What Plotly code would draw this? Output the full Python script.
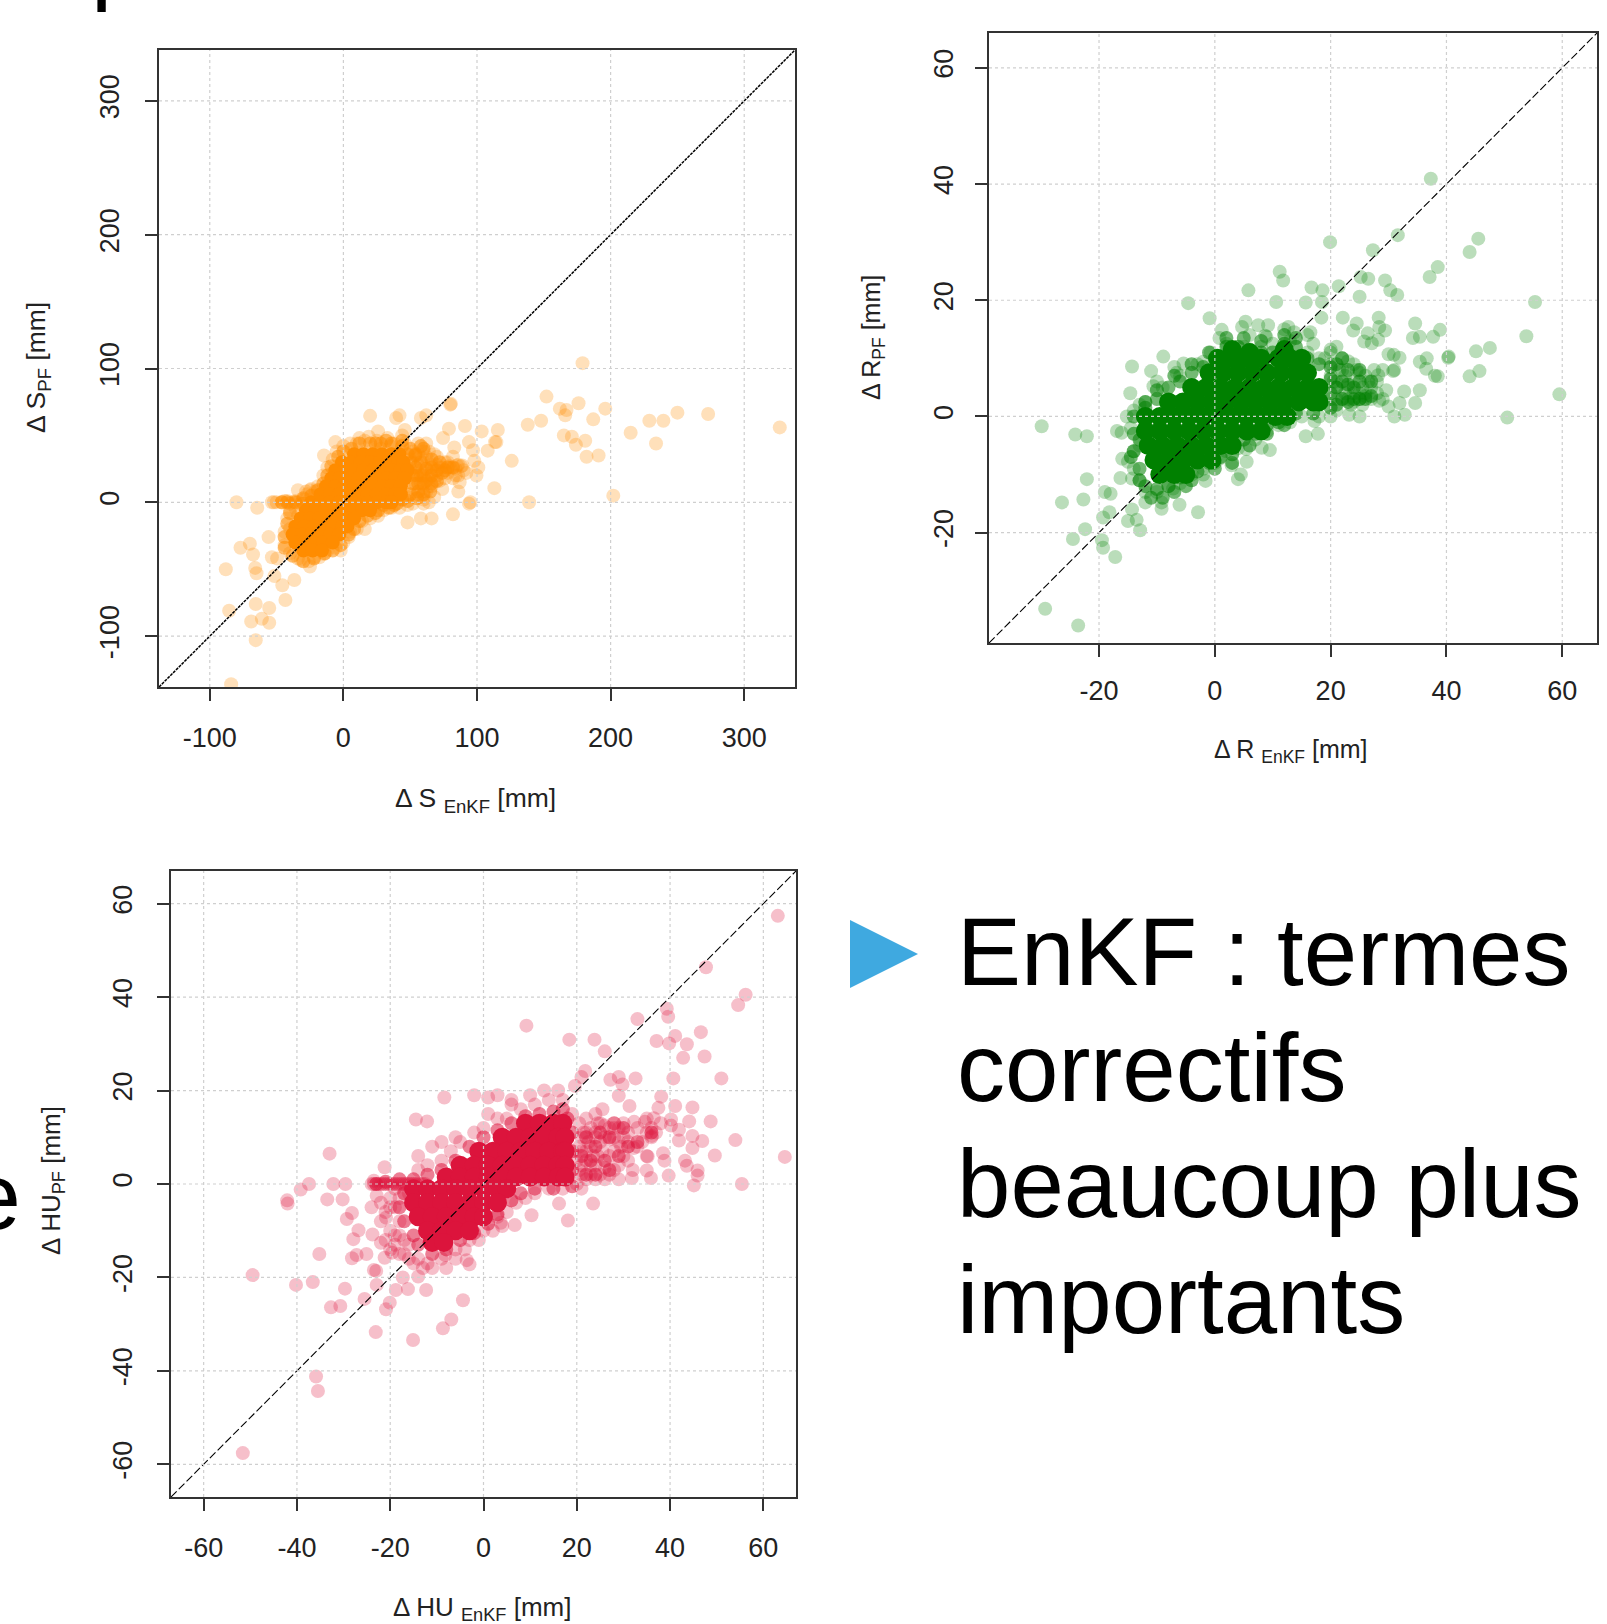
import plotly.graph_objects as go

W, H = 1607, 1624
FONT = "Liberation Sans"

# ---------- data (x = EnKF, y = PF) ----------
S_ticks = [-100, 0, 100, 200, 300]
R_ticks = [-20, 0, 20, 40, 60]
HU_ticks = [-60, -40, -20, 0, 20, 40, 60]

S_range = [-138, 338]
R_range = [-39, 66]
HU_range = [-67, 67]

S_core = [
 (8,36),(15,36),(22,36),(29,36),(36,36),(42,36),
 (-1,30),(6,30),(13,30),(20,30),(27,30),(34,30),(41,30),(45,30),
 (-6,24),(1,24),(8,24),(15,24),(22,24),(29,24),(36,24),(43,24),(48,24),
 (-9,18),(-3,18),(4,18),(11,18),(18,18),(25,18),(32,18),(39,18),(46,18),
 (-13,12),(-6,12),(1,12),(8,12),(15,12),(22,12),(29,12),(36,12),(43,12),
 (-17,6),(-10,6),(-3,6),(4,6),(11,6),(18,6),(25,6),(32,6),(39,6),(43,6),
 (-24,0),(-17,0),(-10,0),(-3,0),(4,0),(11,0),(18,0),(25,0),(32,0),(36,0),
 (-28,-6),(-21,-6),(-14,-6),(-7,-6),(0,-6),(7,-6),(14,-6),(20,-6),
 (-32,-12),(-25,-12),(-18,-12),(-11,-12),(-4,-12),(3,-12),(8,-12),
 (-36,-18),(-29,-18),(-22,-18),(-15,-18),(-8,-18),(-1,-18),(3,-18),
 (-38,-24),(-31,-24),(-24,-24),(-17,-24),(-10,-24),(-3,-24),
 (-36,-30),(-29,-30),(-22,-30),(-15,-30),(-8,-30),
 (-30,-36),(-23,-36),(-16,-36),
]
S_edge = [
 (50,40),(54,35),(58,30),(62,25),(66,20),(70,24),(55,20),(60,14),(65,8),(52,14),(56,8),(50,6),(44,42),(36,44),
 (28,44),(20,44),(12,44),(6,40),(0,38),(-4,34),(-9,27),(-12,20),(-15,14),(-19,9),(-24,5),(-30,3),(-36,0),(-42,0),
 (-46,0),(-30,-1),(-40,-8),(-42,-16),(-44,-26),(-44,-34),(-38,-40),(-30,-44),(-22,-42),(-14,-38),(-8,-36),(-2,-32),
 (4,-24),(8,-20),(12,-14),(18,-10),(24,-8),(30,-2),(40,-1),(48,1),(72,30),(76,24),(82,26),(60,40),(66,32),(58,42),
 (50,30),(54,26),(58,20),(62,16),(66,14),(70,16),(74,22),(78,26),(56,14),(60,20),(54,36),(48,36),(52,20),(66,26),
 (60,6),(55,3),(44,2),(38,-2),(34,-4),(26,-6),(44,46),(32,46),(24,44),
]
S_scatter = [
 (326.6,56),(273,66),(250,67),(239.5,61),(229,61),(234,44),(215,52),(202,5),(196,70),(191,35),
 (182,34),(181,46),(187,62),(179,104),(176,74),(174,43),(171,49),(165,50),(166,65),(167,69),
 (162,70),(152,79),(148,61),(138,58),(139,0),(126,31),(115.6,54),(114.5,45),(113.5,45),(113,10.6),
 (108,38.6),(103.5,53),(101,26),(95,0),(94,-1),(91,57),(94,45),(97,39),(98,31),(99.6,20),
 (86,8),(82,-9),(66,-12),(58,-12),(48,-15),(64,0),(60,-1),(80.5,73.6),(80,73),(79,55),
 (74.6,48),(83,41),(89,27.5),(85,27.5),(79,27),(62,65),(58,63),(46,54),(42,65),(39.5,63),
 (20,64.6),(26,53),(19,49),(-6,45),(-14.5,35),
 (-80,0),(-64.5,-4),(-53.5,0),(-56,-26),(-70,-31),(-77,-34),(-67.6,-39),(-88,-50),(-66,-49),(-65,-53),
 (-53.5,-41),(-49.6,-42),(-51.6,-55),(-45.7,-62),(-36.7,-58),(-43.4,-73),(-65.6,-76),(-55.5,-79),(-85.5,-81),
 (-69,-89),(-61,-87),(-55.5,-90),(-65.6,-103),(-84,-136),(-25,-48),(-32,-43),(-14.5,-38.6),(-22,-41),
 (52,38),(56,44),(60,30),(54,22),(58,14),(62,8),(66,22),(70,28),(72,16),(76,30),(80,26),(84,25),(88,27),
 (86,20),(78,22),(74,10),(68,4),(60,2),(56,6),(52,10),(64,38),(58,34),(62,44),(66,12),(70,34),(82,34),
 (90,24),(64,18),(56,28),(50,32),(48,4),(52,-1),(60,18),(68,24),(74,26),(82,18),(60,38),(62,28),(87,15),
 (48,20),(50,24),(52,30),(54,14),(56,36),(58,24),(60,8),(62,34),(64,12),(66,28),(68,16),(70,20),(72,26),(76,18),
 (78,30),(84,20),(86,28),(92,22),(68,36),(58,4),
 (0,42),(5,44),(10,44),(16,46),(25,46),(33,48),(38,44),(44,50),(-8,32),(-12,26),(-15,20),(-19,12),(-21,8),
 (-5,38),(12,48),(28,40),(46,44),(35,42),(-27,6),(-24,10),(-30,2),
 (-52,0),(-50,0),(-46,0),(-42,1),(-38,0),(-34,0),(-34,9),(-28,8),(-25,9),(-44,1),(-40,-1),(-36,1),(-32,-1),
 (-40,-20),(-42,-12),(-44,-22),(-40,-6),(-36,-4),(-34,-10),(-44,-32),(-40,-38),(-34,-42),(-26,-44),(-18,-41),
 (-12,-36),(-6,-34),(0,-30),(4,-26),(10,-20),(14,-14),(20,-12),(26,-10),(30,-6),(36,-4),(42,-4),(48,-2),
 (5,-22),(-2,-36),(16,-20),
]

R_core = [
 (3,11.5),(6,11),(12,11.5),
 (0.5,10),(3,10),(5.5,10),(8,10),(11,10),(13,10),(15,10),
 (-1,7.5),(1.5,7.5),(4,7.5),(6.5,7.5),(9,7.5),(11.5,7.5),(14,7.5),(16,7.5),
 (-4,5),(-1.5,5),(1,5),(3.5,5),(6,5),(8.5,5),(11,5),(13.5,5),(16,5),(18,5),
 (-8,2.5),(-5.5,2.5),(-3,2.5),(-0.5,2.5),(2,2.5),(4.5,2.5),(7,2.5),(9.5,2.5),(12,2.5),(14.5,2.5),(17,2.5),(18,2.5),
 (-12,0),(-9.5,0),(-7,0),(-4.5,0),(-2,0),(0.5,0),(3,0),(5.5,0),(8,0),(10.5,0),(12.5,0),
 (-12,-2.5),(-9.5,-2.5),(-7,-2.5),(-4.5,-2.5),(-2,-2.5),(0.5,-2.5),(3,-2.5),(5.5,-2.5),(8,-2.5),
 (-11.5,-5),(-9,-5),(-6.5,-5),(-4,-5),(-1.5,-5),(1,-5),(3,-5),
 (-10.5,-7.5),(-8,-7.5),(-5.5,-7.5),(-3,-7.5),(-0.5,-7.5),
 (-9.5,-10),(-7,-10),(-5,-10),
]
R_edge = [
 (-14,0),(-14,-3),(-14,-6),(-13,-9),(-12,-12),(-10,-12.5),(-8,-12),(-6,-10.5),(-3,-9.5),(-1,-8),(1,-7),(3,-6.5),
 (5,-4),(7,-3),(9,-1.5),(11,-1),(14,0.5),(17,0.5),(20,1.5),(20,4),(20,6.5),(20,8.5),(18,9),(16,10),(14,12),(12,12.5),
 (10,11),(8,11),(6,11.5),(4,12),(2,12),(0,10),(-2,8.5),(-4,7.5),(-6,6),(-8,5),(-10,3),(-12,1.5),(22,6),(22,3),(24,5),
 (24,3),(26,3),(25,6),(23,8),
 (-13,-11),(-11,-14),(-9,-14),(-7,-13),(-5,-12),(-13,-4),(-14.5,-7),(-4,-11),(0,-9),(3,-8),(6,-5),(9,-3),(12,-1.5),
 (21,9),(21,2),(21,5),(23,2.5),(23,5.5),(25,3),(27,3.5),(27,6),(25,8),(22,10),(14,13.5),(12,14),(8,13),(5,13.5),
 (2,13.5),(-1,11),(-4,9),(-7,7),(-10,4.5),(-12,2.5),
]
R_scatter = [
 (59.5,3.8),(55.3,19.7),(53.8,13.8),(50.5,-0.2),(47.5,11.8),(45.7,7.8),(45.1,11.2),(45.5,30.6),(44,28.3),(44,6.9),
 (40.4,10.3),(40.3,10.1),(37.3,40.9),(38.5,25.7),(37.1,24),(38.9,14.9),(37.7,13.7),(38.5,6.9),(38,7),(36.6,10),
 (35.4,9.4),(36.5,8.2),(34.6,16),(34.2,13.5),(35.4,13.7),(35.4,4.5),(34.6,2.3),(31.6,31.2),(31.5,20.9),(30.3,21.7),
 (29.4,23.4),(27.3,28.6),(26.5,23.7),(25.2,24),(25,20.6),(21.4,22.4),(19.9,30),(18.6,21.7),(16.7,22.2),(15.7,19.6),
 (18.5,19.7),(18.4,17),(16.5,14.5),(11.2,24.9),(11.8,23.4),(10.6,19.7),(5.8,21.7),(-4.6,19.5),(-0.9,16.9),(1.2,14.9),
 (0.8,13.5),(5.3,16.3),(4.7,15.4),(7.5,15.7),(9.2,15.7),(8.7,13.9),(8.9,13.7),(12.7,15.4),(13.7,14.5),(22.1,17),
 (24.5,16),(23.9,14.8),(26.4,14.3),(28.3,17),(28.4,15.4),(29.4,14.8),(28.2,13.2),(25.8,12.9),(27.1,12.6),(30,10.7),
 (30.9,10.6),(31.9,10.1),(31,8),(30.8,7.8),(28.2,7.1),(29.6,4.5),(32.7,4.3),(31.9,2.3),(30,1.7),(31,0),
 (32.8,0.3),(28.4,2.7),(25,0),(23.2,0.3),(17.8,-3),(15.7,-3.4),(17.2,-0.8),(9.5,-5.8),(8.1,-5.4),(5.4,-5.6),
 (5.5,-7.8),(4.5,-10),(4,-10.8),(2.9,-8.4),(0.8,-7.3),(-2.9,-16.5),(-1.6,-11.1),(-2,-10),(-6.1,-15.2),(-7.2,-12.4),
 (-9.2,-15.9),(-9.2,-14.8),(-12,-14.8),(-12.9,-19.6),(-13.5,-17.8),(-15,-18),(-14.3,-16),(-18.2,-16.5),(-19.3,-17.4),
 (-18,-13.3),(-19,-13),(-22.1,-10.8),(-22.7,-14.3),(-26.4,-14.8),(-22.4,-19.4),(-24.5,-21.1),(-19.5,-21.3),(-19.3,-22.6),
 (-17.2,-24.2),(-29.3,-33.1),(-23.6,-36),(-29.9,-1.7),(-24.1,-3.1),(-22.1,-3.4),(-16.1,-2.8),(-16.9,-2.5),(-16,-7.3),
 (-15,-7.8),(-16.3,-10.6),(-14.3,-10.7),(-14.6,4),(-14.3,8.6),(-11,7.8),(-8.9,10.3),(-10.6,5.2),(-6.6,7.5),(-5.4,9.1),
 (-0.7,11),(-2,9.4),(-15.2,0),
 (20.5,6),(21,3),(22,8),(23,5),(24,2.5),(25,4),(26,3.5),(26.5,6),(25,7.5),(27,3),(24,9),(22,3),(21,1),(23,9.5),(20,9),
 (28,4),(20,7),(21,5),(25,3),(24,4),(26,4),(23,3),
 (20,3),(21,6),(21.5,8),(22.5,4),(22.5,7),(23.5,2),(24,6),(24.5,8),(25.5,2),(25.5,5),(26,7),(27,5),(27.5,8),(28,6),
 (29,8),(29,3),(19,10),(20,11.5),(21,12),
 (-3,9),(0,10),(2,12.5),(5,12),(8,12),(10,12.5),(13,13),(16,11),(18,10),(20,11),(22,10),(-6,7),(-9,5),(-12,2.5),
 (-14,1),(-10,6),(-7,8.5),(6,14),(12,15),(16,14),(17,12.5),
 (-13,-5),(-14,-6),(-14,-9),(-13,-11),(-12,-13),(-10,-13),(-8,-12),(-6,-11.5),(-4,-10),(-2,-9),(0,-8),(2,-6),(4,-5.5),
 (7,-4),(9,-2.5),(11,-1.5),(13,-1),(15,0),(18,0),(20,0),(-14.5,-2),(-13,2),
]

HU_core = [
 (9,13),(12,13),(15,13),(17,13),
 (4,10),(7,10),(10,10),(13,10),(16,10),(17.5,10),
 (-1,7),(2,7),(5,7),(8,7),(11,7),(14,7),(17,7),(17.5,7),
 (-5,4),(-2,4),(1,4),(4,4),(7,4),(10,4),(13,4),(16,4),(17.5,4),
 (-8,1.5),(-5,1.5),(-2,1.5),(1,1.5),(4,1.5),(7,1.5),(10,1.5),(13,1.5),(16,1.5),(17.5,1.5),
 (-15,-1),(-12,-1),(-9,-1),(-6,-1),(-3,-1),(0,-1),(3,-1),(5,-1),
 (-15,-4),(-12,-4),(-9,-4),(-6,-4),(-3,-4),(0,-4),(3,-4),
 (-14,-7),(-11,-7),(-8,-7),(-5,-7),(-2,-7),(0,-7),
 (-12,-10),(-9,-10),(-6,-10),(-3,-10),
 (-11,-12.5),(-8.5,-12.5),
]
HU_edge = [
 (-17,-2),(-18,-5),(-17,-8),(-15,-11),(-14,-13),(-11,-15),(-8,-14),(-5,-12),(-2,-10.5),(1,-8.5),(3,-6.5),(6,-3.5),
 (8,-2),(11,-1),(15,-1),(19,-0.5),(19,3),(19,7),(19,11),(18,14),(17,16),(15,15.5),(12,15),(9,14.5),(6,13),(3,11.5),
 (0,10),(-3,8),(-6,5),(-9,3),(-12,2),(-15,1),(-18,1),(-21,0.5),(-23,0),
 (21,6),(22,2),(22,10),(23,5),(24,8),(25,11),(26,5),(27,10),(28,13),(29,6),(30,12),(31,8),(33,9),(36,11),(24,2),(27,3),
]
HU_scatter = [
 (64.6,5.8),(63.1,57.4),(56.2,40.5),(54.6,38.3),(55.4,0),(54,9.4),(51,22.6),(49.6,6.1),(48.7,13.4),(47.7,46.4),
 (47.4,27.3),(46.6,32.5),(46.9,9.2),(45.9,2.9),(45.9,1.8),(45.1,-0.3),(44.8,16.4),(44.8,10.3),(44.8,7.7),(44.1,13.4),
 (43.6,29.9),(42.8,27),(43.6,3.9),(43.2,5),(41.9,9.3),(41.9,11.6),(41.1,31.7),(41.1,16.7),(40.7,22.6),(40.2,12.5),
 (40.2,13.8),(39.3,37.5),(39.6,35.8),(39.8,30.1),(39.7,1.8),(38.8,5),(38.5,6.6),(37.5,16.3),(38.1,18.7),(37.1,30.6),
 (36.5,14.1),(36.1,10.3),(35.9,1.3),(35.2,5.9),(35,2.9),(34.6,13.3),(33,35.3),(32.6,22.6),(32.3,13.3),(32.2,7.7),
 (31.8,1.3),(31.3,16.7),(29,22.9),(29.8,21.3),(29,18.9),(27.2,22.3),(26,28.4),(23.8,30.9),(18.4,30.9),(9.2,33.9),
 (21.8,24.2),(21,22.9),(19.6,21),(23.5,-4.2),(18.1,-7.8),(16.2,-4.2),(10.3,-6.7),(6.7,-8.8),(3.7,-8.3),(-8.4,18.5),
 (-14.5,13.8),(-12.1,13.4),(-33,6.5),(-37.4,0),(-39.2,-1.2),(-32.2,0),(-29.6,0),(-42.1,-3.5),(-42,-4.2),(-33.5,-3.3),
 (-30.2,-3.3),(-28.2,-6.2),(-29.3,-7.5),(-21.2,3.6),(-26.8,-9.9),(-27.9,-11.8),(-23.8,-10.8),(-35.2,-15),(-25.1,-15),
 (-27.2,-15.2),(-28.2,-15.9),(-23.5,-18.4),(-23,-18.6),(-49.5,-19.5),(-40.2,-21.6),(-36.6,-21),(-29.7,-22.4),(-22.9,-21.6),
 (-32.7,-26.4),(-30.7,-26.1),(-25.5,-24.6),(-20.9,-26.8),(-23.1,-31.7),(-35.9,-41.2),(-35.5,-44.3),(-51.6,-57.6),
 (-15.1,-33.4),(-8.7,-30.9),(-6.9,-29),(-4.4,-24.9),(-12.3,-22.7),(-16.2,-22.5),(-18.8,-22.7),(-20.1,-25.4),(-17.3,-20),
 (-14,-19.8),(-3,-17.2),(-3.6,-16.3),(-8.2,-15.2),(-21.2,-15.8),(-19.6,-14.7),(-22.9,-2.5),(-23.5,0.7),(-20.9,-7.2),(-22,-12.6),
 (21,10),(22,7),(23,12),(24,4),(25,9),(26,12.5),(27,6),(28,3),(28,12),(29,9),(30,13),(30,6),(31,9),(32,3),(33,8),(24,1),
 (22,1),(21,4),(26,1),(29,1),(23,8),(25,13),(27,9.5),(29.5,8),(31,11),(24.5,6),(26,3.5),(20.5,13),(22,14),(25.5,16),(24,15),
 (35,11),(36,10),(37,11),(38,13),(35,14),(21,7),(21,2),(20,5),(23,4),(22,11),(29,12),(24,11),
 (20.5,3),(20.5,8),(21.5,11),(22,5),(22.5,9),(23,2),(23.5,6),(24,10),(24.5,13),(25,2),(25.5,7),(26,10),(27,2),(27,12),
 (28,7),(28,10),(29,4),(30,10),(31,5),(33,12),(34,9),(35,6),(36,12),
 (-24,0),(-23,0),(-22,0),(-21,0),(-20,0),(-19,0),(-18,0),(-17,0),(-16,0),(-15,0),(-14,0),(-13,0),
 (-23.5,0),(-22.5,0),(-21.5,0),(-20.5,0),(-19.5,0),(-18.5,0),(-17.5,0),(-16.5,0),(-15.5,0),(-14.5,0),(-13.5,0),(-12.5,0),
 (-12,4),(-9,5),(-7,7),(-5,9),(-2,11),(0,12),(3,14),(5,14),(8,16),(11,17),(14,18),(17,18),(19,15),(-14,3),(-11,8),(-9,9),
 (-14,6),(-6,10),(1,15),(6,17),(10,19),(13,20),(16,20),(1,18.5),(3,19),(6,18),(-2,19),
 (-18,-8),(-19,-5),(-17,-12),(-16,-16),(-14,-16),(-12,-17),(-9,-16),(-6,-14),(-3,-12),(0,-10),(3,-7),(5,-6),(7,-4),(9,-3),
 (11,-2),(14,-1),(17,-1),(-19,-11),(-18,-15),(-20,-3),(-21,-6),(-16,-2),(20,0),(21,-1),
 (-22,-8),(-20,-10),(-19,-13),(-17,-15),(-16,-13),(-20,-14),(-18,-11),(-21,-12),(-15,-17),(-13,-18),(-11,-18),(-8,-18),
 (-6,-16),(-4,-14),(-1,-12),(2,-10),(4,-9),(-24,-5),(-22,-4),(-20,-5),(-18,-3),(-19,-1),
]

panels = [
    dict(ax="", core=S_core, edge=S_edge, pts=S_scatter, ticks=S_ticks, rng=S_range, rgb="255,140,0",
         box=(159, 795, 50, 687), dash="3px,1px", lw=1.5, core_size=14, xsoff=14, ysoff=15, tsize=26.5,
         xtitle="Δ S <sub>EnKF</sub> [mm]", ytitle="Δ S<sub>PF</sub> [mm]",
         xt=(475, 800), yt=(38, 368)),
    dict(ax="2", core=R_core, edge=R_edge, pts=R_scatter, ticks=R_ticks, rng=R_range, rgb="0,128,0",
         box=(989, 1597, 33, 643), dash="8px,3px", lw=1.1, core_size=19, xsoff=11, ysoff=11, tsize=25,
         xtitle="Δ R <sub>EnKF</sub> [mm]", ytitle="Δ R<sub>PF</sub> [mm]",
         xt=(1291, 751), yt=(873, 337)),
    dict(ax="3", core=HU_core, edge=HU_edge, pts=HU_scatter, ticks=HU_ticks, rng=HU_range, rgb="220,20,60",
         box=(171, 796, 871, 1497), dash="8px,3px", lw=1.1, core_size=19, xsoff=14, ysoff=14, tsize=26,
         xtitle="Δ HU <sub>EnKF</sub> [mm]", ytitle="Δ HU<sub>PF</sub> [mm]",
         xt=(482, 1608), yt=(52, 1181)),
]

fig = go.Figure()
shapes, annots = [], []
layout = dict(width=W, height=H, margin=dict(l=0, r=0, t=0, b=0), paper_bgcolor="white",
              plot_bgcolor="white", showlegend=False, font=dict(family=FONT, color="#222"))


def px(v):
    return v / W


def py(v):
    return 1 - v / H


for p in panels:
    xa, ya = "x" + p["ax"], "y" + p["ax"]
    l, r, t, b = p["box"]
    common = dict(range=p["rng"], tickvals=p["ticks"], ticktext=[str(v) for v in p["ticks"]],
                  showgrid=False, zeroline=False, showline=True, mirror=True,
                  linecolor="#333", linewidth=1.5, ticks="outside", ticklen=12,
                  tickwidth=1.5, tickcolor="#333", tickfont=dict(family=FONT, size=27, color="#222"))
    layout["xaxis" + p["ax"]] = dict(domain=[px(l), px(r)], anchor=ya, ticklabelstandoff=p["xsoff"], **common)
    layout["yaxis" + p["ax"]] = dict(domain=[py(b), py(t)], anchor=xa, tickangle=-90,
                                     ticklabelstandoff=p["ysoff"], **common)

    fig.add_trace(go.Scatter(x=[c[0] for c in p["pts"]], y=[c[1] for c in p["pts"]], xaxis=xa, yaxis=ya,
                             mode="markers",
                             marker=dict(size=14, color=f"rgba({p['rgb']},0.27)", line=dict(width=0))))
    fig.add_trace(go.Scatter(x=[c[0] for c in p["edge"]], y=[c[1] for c in p["edge"]], xaxis=xa, yaxis=ya,
                             mode="markers", hoverinfo="skip",
                             marker=dict(size=14, color=f"rgba({p['rgb']},0.55)", line=dict(width=0))))
    fig.add_trace(go.Scatter(x=[c[0] for c in p["core"]], y=[c[1] for c in p["core"]], xaxis=xa, yaxis=ya,
                             mode="markers", hoverinfo="skip",
                             marker=dict(size=p["core_size"], color=f"rgb({p['rgb']})", line=dict(width=0))))
    fig.add_trace(go.Scatter(x=p["rng"], y=p["rng"], xaxis=xa, yaxis=ya, mode="lines", hoverinfo="skip",
                             line=dict(color="black", width=p["lw"], dash=p["dash"])))
    for v in p["ticks"]:
        grid = dict(color="#cfcfcf", width=1.2, dash="3px,3px")
        shapes.append(dict(type="line", layer="above", xref=xa, yref=ya, x0=v, x1=v,
                           y0=p["rng"][0], y1=p["rng"][1], line=grid))
        shapes.append(dict(type="line", layer="above", xref=xa, yref=ya, y0=v, y1=v,
                           x0=p["rng"][0], x1=p["rng"][1], line=grid))
    annots.append(dict(text=p["xtitle"], xref="paper", yref="paper", x=px(p["xt"][0]), y=py(p["xt"][1]),
                       showarrow=False, xanchor="center", yanchor="middle",
                       font=dict(family=FONT, size=p["tsize"], color="#222")))
    annots.append(dict(text=p["ytitle"], xref="paper", yref="paper", x=px(p["yt"][0]), y=py(p["yt"][1]),
                       showarrow=False, xanchor="center", yanchor="middle", textangle=-90,
                       font=dict(family=FONT, size=p["tsize"], color="#222")))

# Slide text around the charts
slide_lines = ["EnKF : termes", "correctifs", "beaucoup plus", "importants"]
slide_baselines = [979, 1095, 1211, 1327]
for txt, base in zip(slide_lines, slide_baselines):
    annots.append(dict(text=txt, xref="paper", yref="paper", x=px(955), y=py(base - 28),
                       showarrow=False, xanchor="left", yanchor="middle",
                       font=dict(family=FONT, size=96, color="black")))
annots.append(dict(text="e", xref="paper", yref="paper", x=px(-34), y=py(1224 - 28),
                   showarrow=False, xanchor="left", yanchor="middle",
                   font=dict(family=FONT, size=95, color="black")))
annots.append(dict(text="p", xref="paper", yref="paper", x=px(89), y=py(-13 - 28),
                   showarrow=False, xanchor="left", yanchor="middle",
                   font=dict(family=FONT, size=95, color="black")))
shapes.append(dict(type="path", xref="paper", yref="paper", layer="above",
                   path=f"M {px(850)} {py(920)} L {px(918)} {py(954)} L {px(850)} {py(988)} Z",
                   fillcolor="#3FA9E0", line=dict(width=0)))

layout["shapes"] = shapes
layout["annotations"] = annots
fig.update_layout(**layout)
fig.write_html("out.html", config={"displayModeBar": False},
               post_script="document.body.style.margin='0';document.body.style.overflow='hidden';")
